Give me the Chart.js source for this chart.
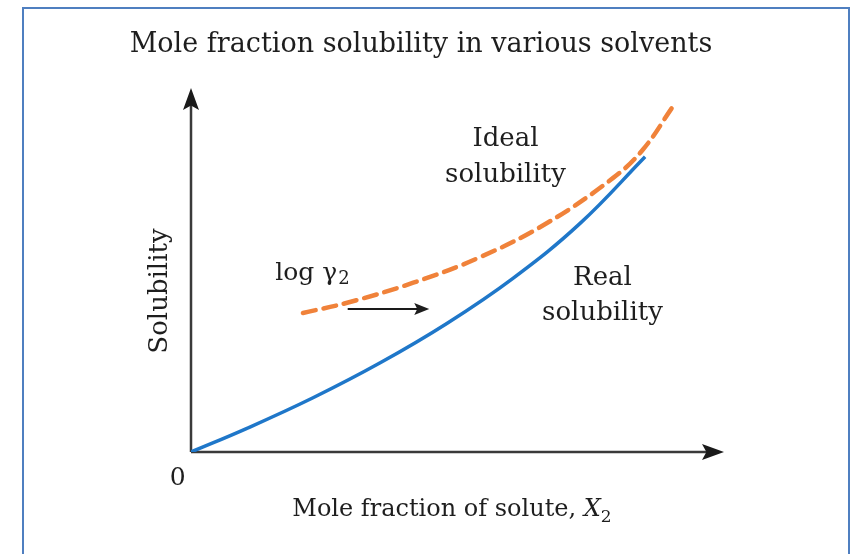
<!DOCTYPE html>
<html>
<head>
<meta charset="utf-8">
<script src="https://cdn.jsdelivr.net/npm/chart.js@4/dist/chart.umd.min.js"></script>
<style>
	html, body { margin: 0; padding: 0; background: #fff; overflow: hidden; }
	#frame {
		position: absolute;
		left: 22px;
		top: 7px;
		width: 824px;
		height: 600px;
		border: 2px solid #4f7fc0;
		border-bottom: none;
	}
	#wrap { position: absolute; left: 0; top: 0; width: 853px; height: 554px; }
</style>
</head>
<body>
<div id="frame"></div>
<div id="wrap"><canvas id="chart" width="853" height="554"></canvas></div>
<script>
'use strict';

// Real solubility (solid blue)
const realX = [0, 0.105, 0.229, 0.355, 0.48, 0.604, 0.73, 0.852];
const realY = [0, 0.065, 0.149, 0.245, 0.353, 0.477, 0.628, 0.811];

// Ideal solubility (dashed orange)
const idealX = [0.21, 0.293, 0.417, 0.542, 0.668, 0.792, 0.848, 0.904];
const idealY = [0.382, 0.410, 0.465, 0.535, 0.629, 0.753, 0.831, 0.949];

const titleText = 'Mole fraction solubility in various solvents';
const xLabel = 'Mole fraction of solute, ';
const yLabel = 'Solubility';
const originLabel = '0';

const toPoints = (xs, ys) => xs.map((x, i) => ({x: x, y: ys[i]}));

const serif = '"DejaVu Serif", "Liberation Serif", serif';

function arrowHead(ctx, x, y, angle, len, half) {
	ctx.save();
	ctx.translate(x, y);
	ctx.rotate(angle);
	ctx.beginPath();
	ctx.moveTo(0, 0);
	ctx.lineTo(-len, -half);
	ctx.lineTo(-len * 0.8, 0);
	ctx.lineTo(-len, half);
	ctx.closePath();
	ctx.fill();
	ctx.restore();
}

const decorPlugin = {
	id: 'decor',
	beforeDatasetsDraw(chart) {
		const ctx = chart.ctx;
		const xs = chart.scales.x;
		const ys = chart.scales.y;
		const x0 = xs.getPixelForValue(0);
		const y0 = ys.getPixelForValue(0);
		const xEnd = xs.getPixelForValue(1);
		const yEnd = ys.getPixelForValue(1);

		ctx.save();
		ctx.strokeStyle = '#3a3a3a';
		ctx.fillStyle = '#1a1a1a';
		ctx.lineWidth = 2.5;
		ctx.beginPath();
		ctx.moveTo(x0, y0);
		ctx.lineTo(xEnd - 10, y0);
		ctx.moveTo(x0, y0);
		ctx.lineTo(x0, yEnd + 10);
		ctx.stroke();
		arrowHead(ctx, xEnd, y0, 0, 22, 8);
		arrowHead(ctx, x0, yEnd, -Math.PI / 2, 22, 8);
		ctx.restore();
	},
	afterDraw(chart) {
		const ctx = chart.ctx;
		const xs = chart.scales.x;
		const ys = chart.scales.y;
		const px = v => xs.getPixelForValue(v);
		const py = v => ys.getPixelForValue(v);

		ctx.save();
		ctx.fillStyle = '#1e1e1e';
		ctx.textAlign = 'center';
		ctx.textBaseline = 'middle';

		ctx.font = '27px ' + serif;
		ctx.fillText(titleText, 421, 45);

		ctx.font = '26px ' + serif;
		ctx.fillText('Ideal', px(0.59), py(0.86));
		ctx.fillText('solubility', px(0.59), py(0.76));
		ctx.fillText('Real', px(0.772), py(0.478));
		ctx.fillText('solubility', px(0.772), py(0.382));

		// log gamma_2
		ctx.textAlign = 'left';
		ctx.font = '25px ' + serif;
		const lx = px(0.158);
		const ly = py(0.49);
		ctx.fillText('log γ', lx, ly);
		const lw = ctx.measureText('log γ').width;
		ctx.font = '18px ' + serif;
		ctx.fillText('2', lx + lw + 1, ly + 6);

		// arrow under log gamma
		ctx.strokeStyle = '#1a1a1a';
		ctx.lineWidth = 2;
		ctx.beginPath();
		ctx.moveTo(px(0.294), py(0.393));
		ctx.lineTo(px(0.44), py(0.393));
		ctx.stroke();
		arrowHead(ctx, px(0.447), py(0.393), 0, 15, 6);

		// origin
		ctx.textAlign = 'center';
		ctx.font = '25px ' + serif;
		ctx.fillText(originLabel, px(-0.025), py(-0.072));

		// x axis label
		ctx.font = '24px ' + serif;
		ctx.textAlign = 'left';
		const xl = ctx.measureText(xLabel).width;
		ctx.font = 'italic 24px ' + serif;
		const xw = ctx.measureText('X').width;
		ctx.font = '17px ' + serif;
		const sw = ctx.measureText('2').width;
		const total = xl + xw + sw;
		const sx = 452 - total / 2;
		const sy = 510;
		ctx.font = '24px ' + serif;
		ctx.fillText(xLabel, sx, sy);
		ctx.font = 'italic 24px ' + serif;
		ctx.fillText('X', sx + xl, sy);
		ctx.font = '17px ' + serif;
		ctx.fillText('2', sx + xl + xw, sy + 8);

		// y axis label
		ctx.translate(160, 291);
		ctx.rotate(-Math.PI / 2);
		ctx.textAlign = 'center';
		ctx.font = '26px ' + serif;
		ctx.fillText(yLabel, 0, 0);
		ctx.restore();
	}
};

new Chart(document.getElementById('chart'), {
	type: 'scatter',
	data: {
		datasets: [
			{
				label: 'Real solubility',
				data: toPoints(realX, realY),
				showLine: true,
				borderColor: '#1f77c9',
				borderWidth: 3.5,
				pointRadius: 0,
				tension: 0.4
			},
			{
				label: 'Ideal solubility',
				data: toPoints(idealX, idealY),
				showLine: true,
				borderColor: '#f0823a',
				borderWidth: 4.5,
				borderDash: [13, 8],
				borderCapStyle: 'round',
				pointRadius: 0,
				tension: 0.4
			}
		]
	},
	options: {
		responsive: false,
		animation: false,
		events: [],
		layout: {
			padding: {left: 191, right: 129, top: 88, bottom: 102}
		},
		scales: {
			x: {type: 'linear', min: 0, max: 1, display: false},
			y: {type: 'linear', min: 0, max: 1, display: false}
		},
		plugins: {
			legend: {display: false},
			title: {display: false},
			tooltip: {enabled: false}
		}
	},
	plugins: [decorPlugin]
});
</script>
</body>
</html>
